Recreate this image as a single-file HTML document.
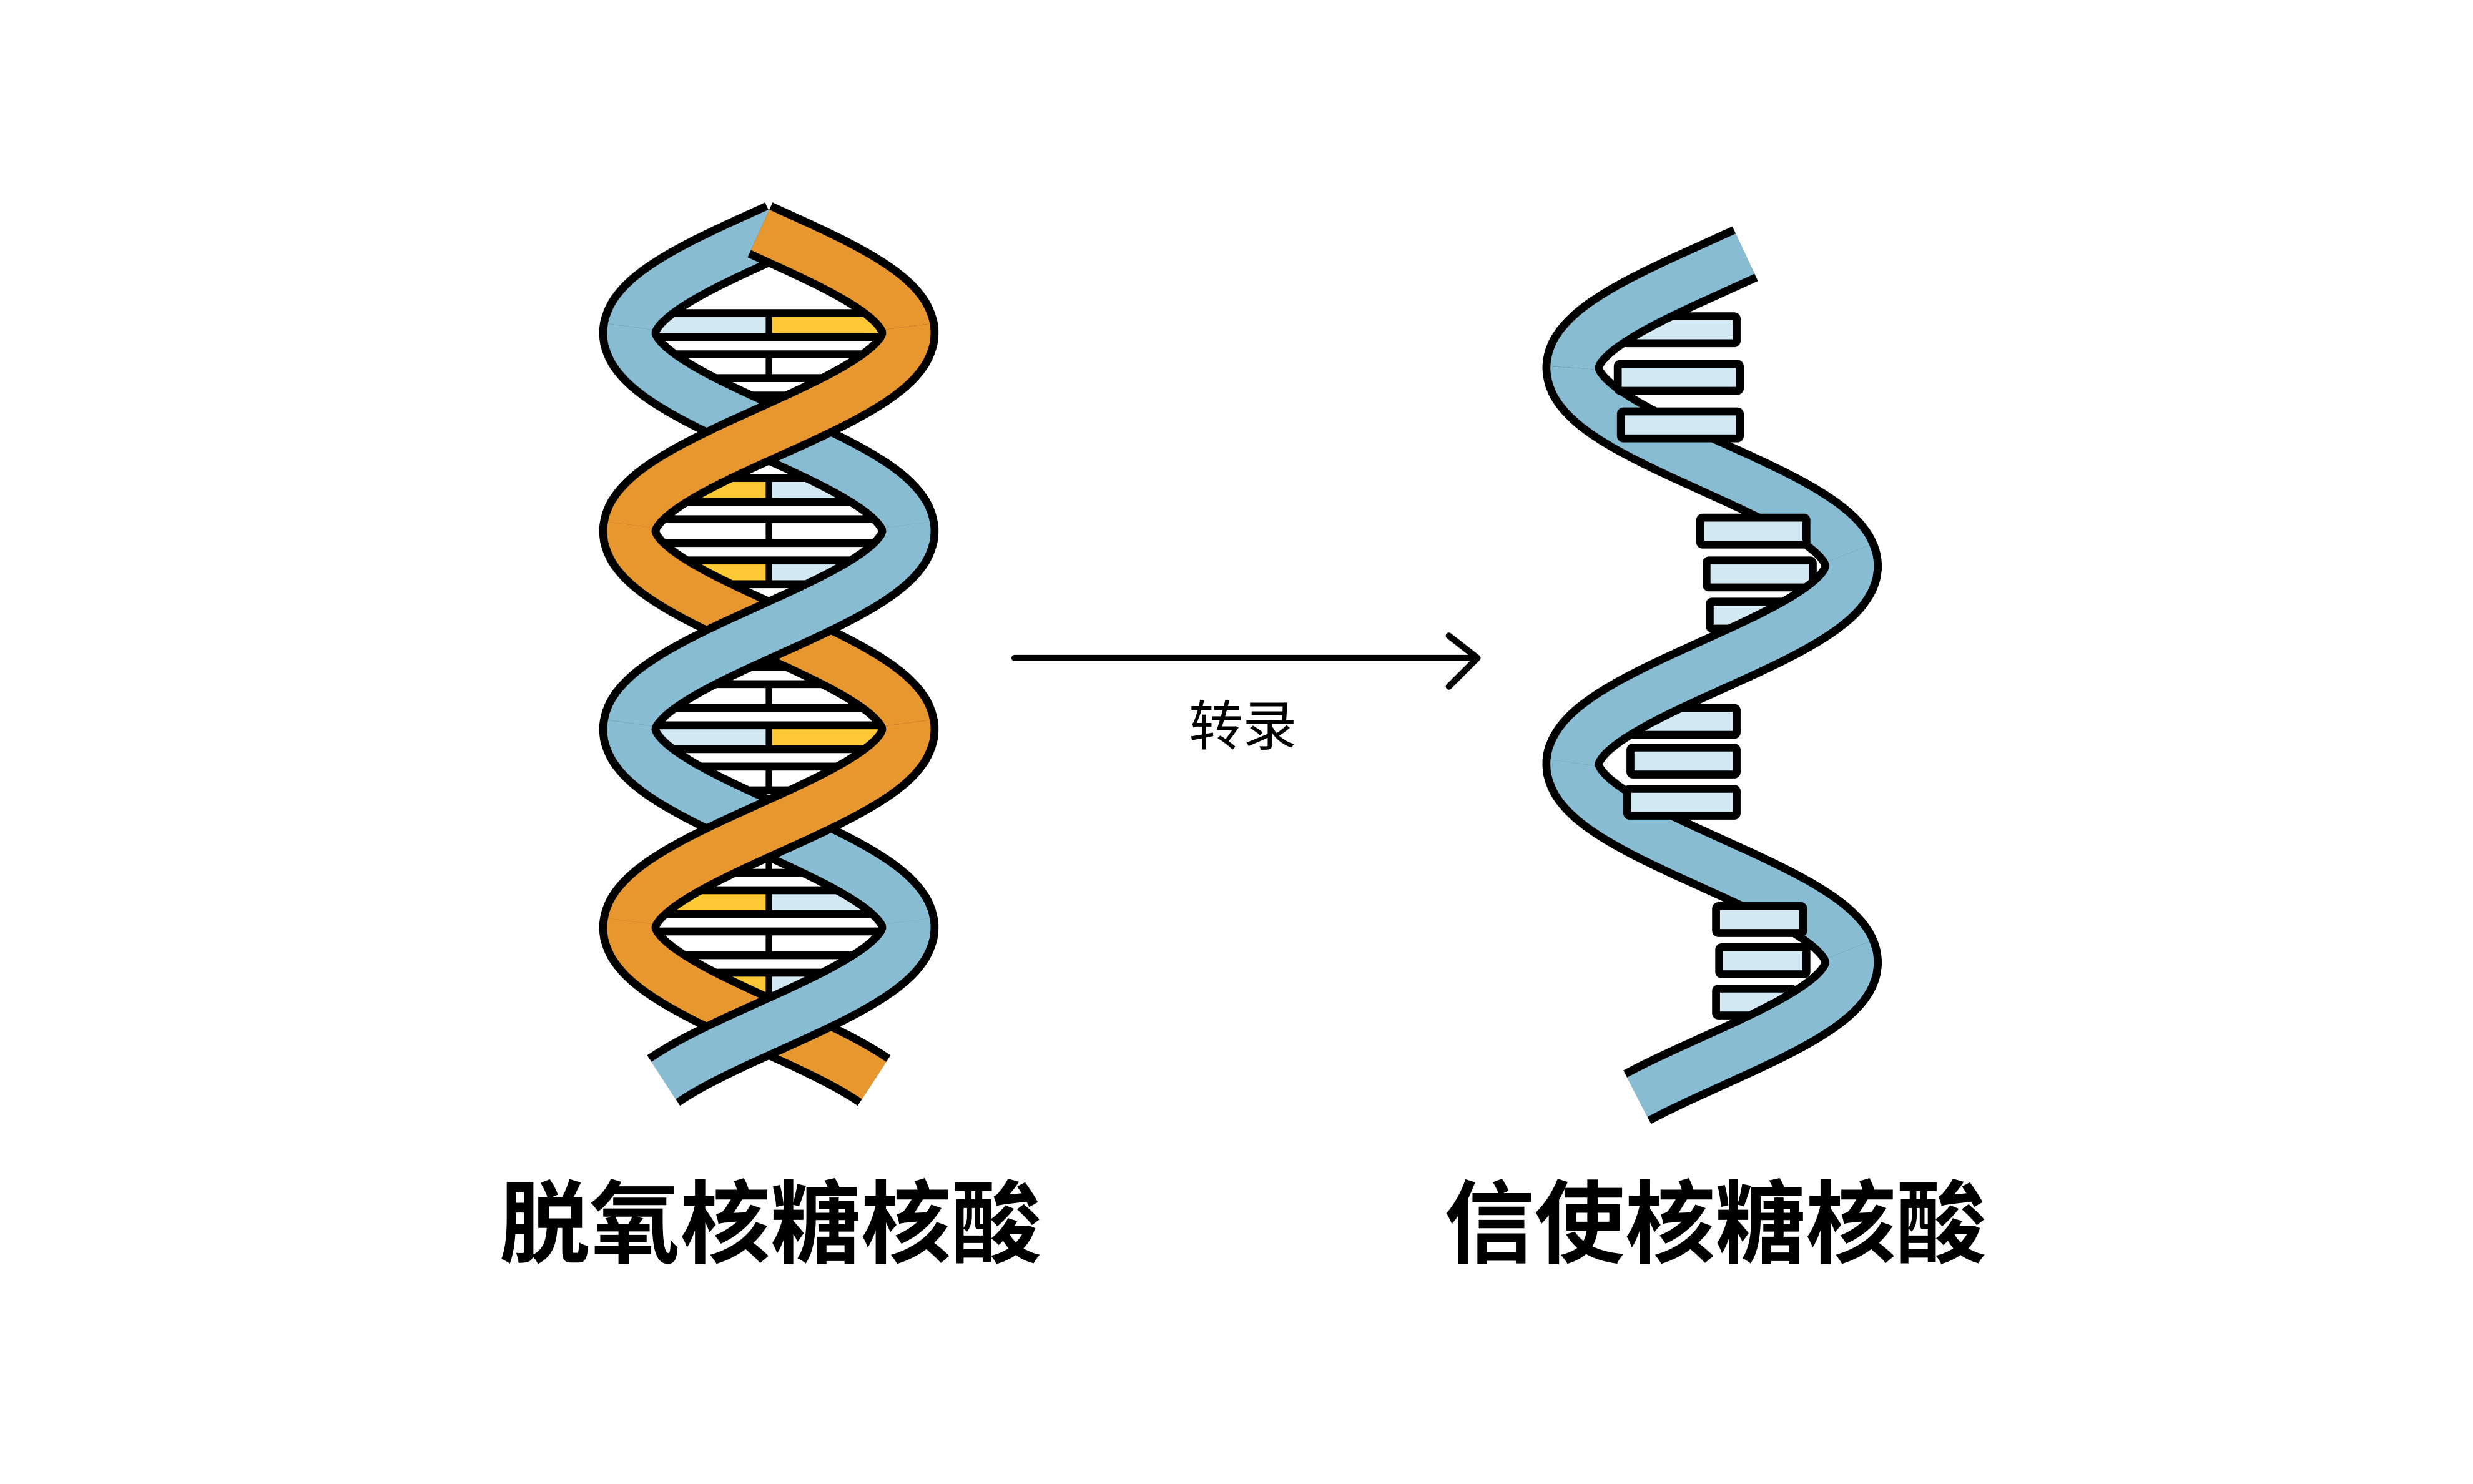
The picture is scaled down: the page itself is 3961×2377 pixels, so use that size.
<!DOCTYPE html>
<html><head><meta charset="utf-8">
<style>
html,body{margin:0;padding:0;background:#fff;}
svg{display:block;}
text{font-family:"Liberation Sans","Noto Sans CJK SC",sans-serif;}
</style></head>
<body>
<svg id="s" width="3961" height="2377" viewBox="0 0 1560 936" preserveAspectRatio="none" xmlns="http://www.w3.org/2000/svg">
<rect width="1560" height="936" fill="#fff"/>
<g id="dna"></g>
<g id="rna"></g>
<line x1="640" y1="415" x2="928" y2="415" stroke="#000" stroke-width="4" stroke-linecap="round"/>
<polyline points="914,401 932,415 914,433" fill="none" stroke="#000" stroke-width="4" stroke-linecap="round" stroke-linejoin="round"/>
<text x="784" y="470" font-size="34" text-anchor="middle" fill="#000">转录</text>
<text x="486" y="792" font-size="57" font-weight="bold" text-anchor="middle" fill="#000">脱氧核糖核酸</text>
<text x="1082" y="792" font-size="57" font-weight="bold" text-anchor="middle" fill="#000">信使核糖核酸</text>
</svg>
<script>
var NS="http://www.w3.org/2000/svg";
function el(p,t,a){var e=document.createElementNS(NS,t);for(var k in a)e.setAttribute(k,a[k]);p.appendChild(e);return e;}
function path(f,y0,y1){var d="";for(var y=y0;y<=y1+0.01;y+=1.5){d+=(d?"L":"M")+f(y).toFixed(1)+","+y.toFixed(1);}return d;}
function strand(g,f,y0,y1,col,ov){ov=ov||0;var d=path(f,y0-ov,y1+ov);
 el(g,"path",{d:d,fill:"none",stroke:"#000","stroke-width":38,"stroke-linecap":"butt"});
 el(g,"path",{d:d,fill:"none",stroke:col,"stroke-width":28,"stroke-linecap":"butt"});}
var dna=document.getElementById("dna");
var P=250,c=485,A=88;
function orn(y){return c+A*Math.cos(2*Math.PI*(y-210)/P);}
function blu(y){return c-A*Math.cos(2*Math.PI*(y-210)/P);}
var idx=0;
for(var y=205;y<=645;y+=26){
 var a=orn(y),b=blu(y);var l=Math.min(a,b),r=Math.max(a,b);
 idx++;
 if(r-l<50)continue;var m=(l+r)/2;
 var k=idx%2;
 var lc,rc;
 if(k==0){lc="#fff";rc="#fff";}else{ if(a>b){lc="#d2e9f4";rc="#fcc934";}else{lc="#fcc934";rc="#d2e9f4";} }
 el(dna,"rect",{x:l-4,y:y-10,width:r-l+8,height:20,fill:"#000",rx:4});
 el(dna,"rect",{x:l,y:y-5,width:m-l-2,height:10,fill:lc});
 el(dna,"rect",{x:m+2,y:y-5,width:r-m-2,height:10,fill:rc});
}
var segs=[[145,210,"o"],[210,335,"o"],[335,460,"b"],[460,585,"o"],[585,682,"b"]];
segs.forEach(function(s,i){
 var back=s[2]=="o"?"b":"o";
 var o0=i==0?0:4;
 [back,s[2]].forEach(function(w){
  var d0=s[0]-o0,d1=s[1]+(i==segs.length-1?0:0);
  if(w=="o")strand(dna,orn,d0,d1,"#e8972e");else strand(dna,blu,d0,d1,"#88bcd2");
 });
});
var rna=document.getElementById("rna");
function rf(y){return 1080-88*Math.cos(2*Math.PI*(y-232)/250);}
var bars=[[208,1022,1098],[238,1018,1100],[268,1020,1100],[335,1070,1142],[362,1074,1146],[388,1076,1142],[455,1022,1098],[480,1026,1098],[506,1024,1098],[580,1080,1140],[606,1082,1142],[632,1080,1134]];
strand(rna,rf,160,692,"#88bcd2");
bars.forEach(function(b){
 el(rna,"rect",{x:b[1],y:b[0]-11,width:b[2]-b[1],height:22,fill:"#000",rx:4});
 el(rna,"rect",{x:b[1]+5,y:b[0]-6,width:b[2]-b[1]-10,height:12,fill:"#d2e9f4"});
});
[[160,232],[353,482],[603,692]].forEach(function(s,i){strand(rna,rf,s[0]-(i?4:0),s[1],"#88bcd2");});
</script>
</body></html>
